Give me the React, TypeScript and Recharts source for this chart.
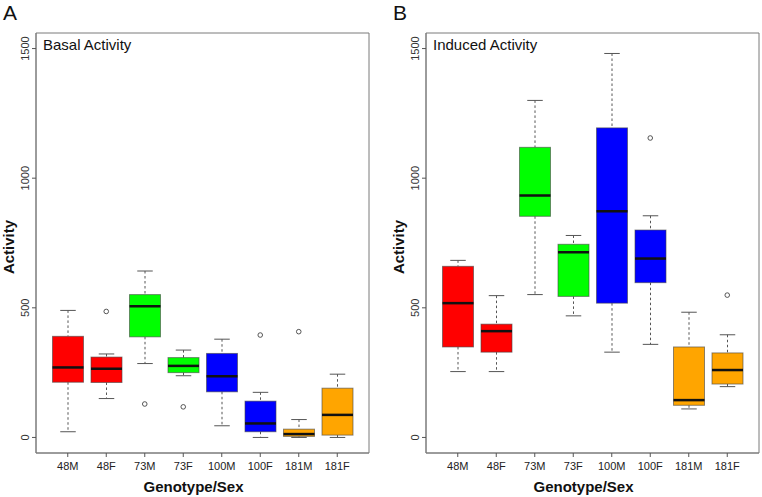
import React from "react";
import { ComposedChart, Bar, Scatter, XAxis, YAxis, Label, CartesianGrid } from "recharts";

const categories = ["48M", "48F", "73M", "73F", "100M", "100F", "181M", "181F"];
const boxColors = ["#FF0000", "#FF0000", "#00FF00", "#00FF00", "#0000FF", "#0000FF", "#FFA500", "#FFA500"];
const yTicks = [0, 500, 1000, 1500];

// Basal activity (panel A)
const basalLow = [22, 150, 285, 238, 45, 0, 0, 0];
const basalQ1 = [213, 212, 388, 250, 176, 22, 4, 9];
const basalMed = [270, 265, 506, 276, 236, 54, 13, 87];
const basalQ3 = [390, 310, 551, 308, 324, 140, 32, 190];
const basalHigh = [490, 322, 642, 337, 379, 174, 69, 244];
const basalOut = [null, 486, 129, 118, null, 395, 408, null];

// Induced activity (panel B)
const inducedLow = [254, 254, 551, 469, 329, 359, 110, 196];
const inducedQ1 = [349, 329, 853, 544, 518, 597, 124, 206];
const inducedMed = [518, 410, 933, 714, 872, 690, 144, 260];
const inducedQ3 = [660, 437, 1119, 745, 1194, 800, 349, 326];
const inducedHigh = [683, 547, 1300, 779, 1481, 855, 483, 396];
const inducedOut = [null, null, null, null, null, 1155, null, 549];

const FONT = "'Liberation Sans', Arial, Helvetica, sans-serif";
const FRAME = "#7a7a7a";
const Y_DOMAIN: [number, number] = [-60, 1560];

function build(low: number[], q1: number[], med: number[], q3: number[], high: number[], out: (number | null)[]) {
  return categories.map((g, i) => ({
    g,
    range: [low[i], high[i]],
    q1: q1[i],
    med: med[i],
    q3: q3[i],
    out: out[i],
  }));
}

const basalData = build(basalLow, basalQ1, basalMed, basalQ3, basalHigh, basalOut);
const inducedData = build(inducedLow, inducedQ1, inducedMed, inducedQ3, inducedHigh, inducedOut);

const BoxShape = (props: any) => {
  const { x, y, width, height, payload, index } = props;
  const lo = payload.range[0];
  const hi = payload.range[1];
  const top = Math.min(y, y + height);
  const bottom = Math.max(y, y + height);
  const py = (v: number) => top + ((bottom - top) * (hi - v)) / (hi - lo);
  const cx = x + width / 2;
  const cap = width / 4;
  const yq3 = py(payload.q3);
  const yq1 = py(payload.q1);
  return (
    <g>
      <line x1={cx} x2={cx} y1={py(hi)} y2={yq3} stroke="#555" strokeWidth={1} strokeDasharray="2.5 2.5" />
      <line x1={cx} x2={cx} y1={yq1} y2={py(lo)} stroke="#555" strokeWidth={1} strokeDasharray="2.5 2.5" />
      <line x1={cx - cap} x2={cx + cap} y1={py(hi)} y2={py(hi)} stroke="#555" strokeWidth={1} />
      <line x1={cx - cap} x2={cx + cap} y1={py(lo)} y2={py(lo)} stroke="#555" strokeWidth={1} />
      <rect x={x} y={yq3} width={width} height={Math.max(yq1 - yq3, 0.5)} fill={boxColors[index]} stroke="#444" strokeOpacity={0.6} strokeWidth={1} />
      <line x1={x} x2={x + width} y1={py(payload.med)} y2={py(payload.med)} stroke="#111" strokeWidth={2.5} />
    </g>
  );
};

const OutlierShape = (props: any) => {
  const { cx, cy, payload } = props;
  if (payload == null || payload.out == null) return <g />;
  return <circle cx={cx} cy={cy} r={2.3} fill="none" stroke="#444" strokeWidth={0.9} />;
};

const YTick = (props: any) => {
  const { x, y, payload } = props;
  return (
    <text
      x={0}
      y={0}
      transform={`translate(${x - 5},${y}) rotate(-90)`}
      textAnchor="middle"
      dominantBaseline="central"
      fontSize={11}
      fontFamily={FONT}
      fill="#333"
    >
      {payload.value}
    </text>
  );
};

const XTick = (props: any) => {
  const { x, y, payload } = props;
  return (
    <text x={x} y={y + 11} textAnchor="middle" fontSize={11} fontFamily={FONT} fill="#222">
      {payload.value}
    </text>
  );
};

function Panel({ data, letter, title, leftW, rightM }: { data: any[]; letter: string; title: string; leftW: number; rightM: number }) {
  return (
    <ComposedChart width={381} height={497} data={data} margin={{ top: 33, right: rightM, bottom: 0, left: 0 }}>
      <CartesianGrid
        stroke={FRAME}
        strokeWidth={1}
        fill="none"
        horizontalCoordinatesGenerator={(p: any) => [p.offset.top, p.offset.top + p.offset.height]}
        verticalCoordinatesGenerator={(p: any) => [p.offset.left, p.offset.left + p.offset.width]}
      />
      <XAxis
        dataKey="g"
        type="category"
        allowDuplicatedCategory={false}
        padding={{ left: 12.5, right: 12.5 }}
        height={44}
        tickSize={4}
        tickLine={{ stroke: "#555" }}
        axisLine={{ stroke: FRAME }}
        tick={<XTick />}
        interval={0}
      >
        <Label
          content={(p: any) => {
            const vb = p.viewBox;
            return (
              <text x={vb.x + vb.width / 2 - 9} y={vb.y + 39} textAnchor="middle" fontSize={15} fontWeight="bold" fontFamily={FONT} fill="#111">
                Genotype/Sex
              </text>
            );
          }}
        />
      </XAxis>
      <YAxis
        type="number"
        domain={Y_DOMAIN}
        ticks={yTicks}
        allowDataOverflow
        width={leftW}
        tickSize={4}
        tickLine={{ stroke: "#555" }}
        axisLine={{ stroke: FRAME }}
        tick={<YTick />}
      >
        <Label
          content={(p: any) => {
            const vb = p.viewBox;
            const edge = vb.x + vb.width;
            const cx = edge - 27.5;
            const cy = vb.y + vb.height / 2 + 4;
            return (
              <g>
                <text
                  x={0}
                  y={0}
                  transform={`translate(${cx},${cy}) rotate(-90)`}
                  textAnchor="middle"
                  dominantBaseline="central"
                  fontSize={15}
                  fontWeight="bold"
                  fontFamily={FONT}
                  fill="#111"
                >
                  Activity
                </text>
                <text x={edge + 7} y={vb.y + 17} fontSize={15} fontFamily={FONT} fill="#111">
                  {title}
                </text>
                <text x={edge - 33} y={vb.y - 13} fontSize={21} fontFamily={FONT} fill="#111">
                  {letter}
                </text>
              </g>
            );
          }}
        />
      </YAxis>
      <Bar dataKey="range" barSize={31} shape={<BoxShape />} isAnimationActive={false} />
      <Scatter dataKey="out" shape={<OutlierShape />} isAnimationActive={false} />
    </ComposedChart>
  );
}

export default function App() {
  return (
    <div style={{ position: "absolute", left: 0, top: 0, width: 762, height: 497, display: "flex", background: "#fff" }}>
      <Panel data={basalData} letter="A" title="Basal Activity" leftW={36} rightM={12} />
      <Panel data={inducedData} letter="B" title="Induced Activity" leftW={45} rightM={3} />
    </div>
  );
}
